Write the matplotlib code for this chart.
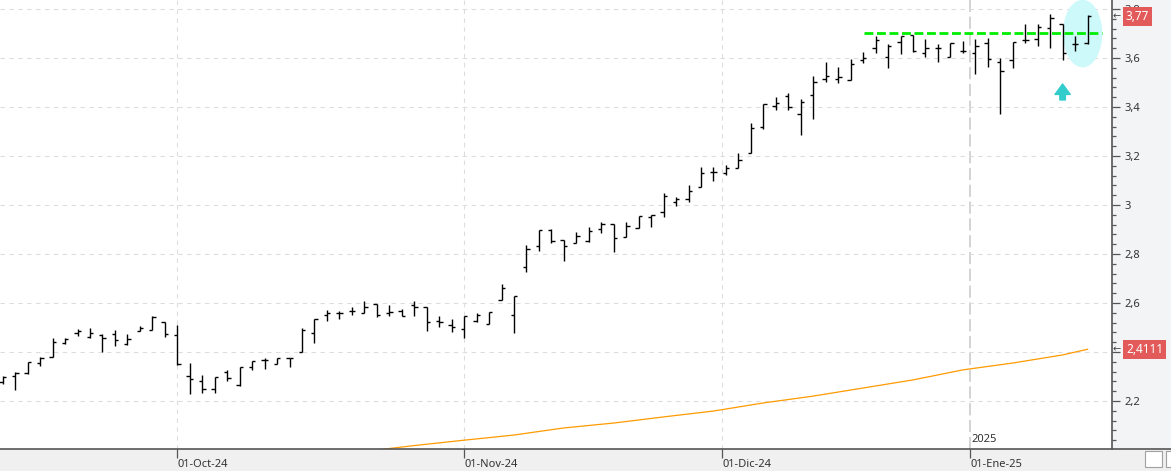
import numpy as np
import matplotlib
matplotlib.use("Agg")
import matplotlib.pyplot as plt
import matplotlib.transforms as mtransforms
from matplotlib.patches import Ellipse, Rectangle
from matplotlib.lines import Line2D
from matplotlib.ticker import MultipleLocator, FuncFormatter

plt.rcParams['font.family'] = ['Noto Sans', 'DejaVu Sans']

# Daily OHLC, one entry per session (11-Sep-24 .. 15-Jan-25)
opens = [2.276, 2.302, 2.313, 2.354, 2.378, 2.436, 2.476, 2.460, 2.470, 2.472,
         2.433, 2.486, 2.490, 2.521, 2.470, 2.302, 2.283, 2.250, 2.320, 2.265,
         2.337, 2.367, 2.351, 2.374, 2.399, 2.476, 2.551, 2.561, 2.567, 2.561,
         2.594, 2.558, 2.567, 2.592, 2.582, 2.528, 2.510, 2.494, 2.527, 2.513,
         2.612, 2.551, 2.745, 2.833, 2.898, 2.857, 2.846, 2.854, 2.902, 2.921,
         2.868, 2.905, 2.952, 2.970, 3.014, 3.023, 3.075, 3.133, 3.129, 3.150,
         3.214, 3.320, 3.405, 3.445, 3.370, 3.449, 3.515, 3.515, 3.511, 3.592,
         3.640, 3.603, 3.667, 3.694, 3.619, 3.640, 3.606, 3.630, 3.619, 3.660,
         3.585, 3.592, 3.673, 3.677, 3.724, 3.737, 3.656, 3.660]
highs = [2.302, 2.320, 2.361, 2.381, 2.456, 2.459, 2.494, 2.497, 2.472, 2.490,
         2.472, 2.508, 2.547, 2.524, 2.510, 2.357, 2.306, 2.299, 2.327, 2.337,
         2.365, 2.374, 2.377, 2.377, 2.499, 2.533, 2.571, 2.567, 2.582, 2.609,
         2.594, 2.592, 2.574, 2.608, 2.582, 2.548, 2.535, 2.548, 2.558, 2.562,
         2.676, 2.629, 2.837, 2.898, 2.901, 2.857, 2.888, 2.912, 2.929, 2.921,
         2.932, 2.957, 2.959, 3.048, 3.034, 3.082, 3.154, 3.154, 3.163, 3.211,
         3.333, 3.411, 3.441, 3.456, 3.433, 3.527, 3.585, 3.565, 3.596, 3.623,
         3.690, 3.656, 3.690, 3.694, 3.678, 3.656, 3.660, 3.669, 3.676, 3.680,
         3.601, 3.664, 3.738, 3.741, 3.778, 3.737, 3.691, 3.775]
lows = [2.270, 2.243, 2.310, 2.344, 2.378, 2.432, 2.466, 2.456, 2.402, 2.426,
        2.429, 2.486, 2.490, 2.463, 2.347, 2.228, 2.234, 2.231, 2.282, 2.261,
        2.327, 2.329, 2.351, 2.340, 2.399, 2.435, 2.528, 2.533, 2.551, 2.558,
        2.541, 2.547, 2.547, 2.547, 2.487, 2.503, 2.480, 2.459, 2.524, 2.513,
        2.612, 2.476, 2.725, 2.813, 2.843, 2.773, 2.843, 2.850, 2.884, 2.810,
        2.868, 2.905, 2.912, 2.950, 2.996, 3.014, 3.072, 3.099, 3.122, 3.150,
        3.214, 3.309, 3.389, 3.388, 3.286, 3.351, 3.504, 3.500, 3.511, 3.579,
        3.619, 3.558, 3.615, 3.626, 3.606, 3.585, 3.603, 3.619, 3.534, 3.564,
        3.371, 3.560, 3.660, 3.650, 3.642, 3.594, 3.630, 3.656]
closes = [2.296, 2.313, 2.358, 2.374, 2.440, 2.452, 2.486, 2.479, 2.456, 2.449,
          2.452, 2.497, 2.544, 2.472, 2.350, 2.290, 2.250, 2.297, 2.293, 2.337,
          2.362, 2.367, 2.374, 2.374, 2.490, 2.533, 2.558, 2.561, 2.567, 2.585,
          2.551, 2.565, 2.547, 2.585, 2.521, 2.521, 2.501, 2.548, 2.551, 2.562,
          2.663, 2.629, 2.820, 2.898, 2.853, 2.834, 2.873, 2.894, 2.922, 2.864,
          2.914, 2.957, 2.959, 3.037, 3.023, 3.057, 3.129, 3.133, 3.150, 3.184,
          3.316, 3.411, 3.415, 3.399, 3.419, 3.501, 3.527, 3.521, 3.575, 3.599,
          3.674, 3.651, 3.690, 3.629, 3.640, 3.640, 3.660, 3.630, 3.649, 3.598,
          3.548, 3.664, 3.673, 3.728, 3.762, 3.622, 3.656, 3.770]

# moving average (orange), read at some sessions
ma_idx = [30, 33, 37, 41, 45, 49, 53, 57, 61, 65, 69, 73, 77, 81, 85, 87]
ma_val = [2.000, 2.018, 2.040, 2.061, 2.090, 2.110, 2.135, 2.159, 2.192,
          2.220, 2.253, 2.286, 2.327, 2.355, 2.388, 2.4111]

# month separators (session position) and labels
month_pos = [14, 37, 57.7, 77.6]
month_labels = ["01-Oct-24", "01-Nov-24", "01-Dic-24", "01-Ene-25"]
year_label = "2025"

# resistance line and marks
support = 3.702
support_from, support_to = 69.1, 88.13
mark_idx = 85

W, H = 1171, 471
fig = plt.figure(figsize=(W / 100, H / 100), dpi=100)
fig.patch.set_facecolor('white')

# gray panels for the price scale and the date scale
fig.add_artist(Rectangle((1112 / W, 0), 1, 1, transform=fig.transFigure,
                         color='#f3f4f6', zorder=-1))
fig.add_artist(Rectangle((0, 0), 1, 22 / H, transform=fig.transFigure,
                         color='#f0f0f0', zorder=-1))
fig.add_artist(Line2D([0, 1], [22.5 / H, 22.5 / H], transform=fig.transFigure,
                      color='#555555', lw=1.2, zorder=5))
# small buttons in the corner
fig.add_artist(Rectangle((1145 / W, 4 / H), 17 / W, 16 / H, transform=fig.transFigure,
                         fc='white', ec='#a0a0a0', lw=0.8, zorder=5))
fig.add_artist(Rectangle((1166 / W, 4 / H), 10 / W, 16 / H, transform=fig.transFigure,
                         fc='white', ec='#a0a0a0', lw=0.8, zorder=5))

ax = fig.add_axes([0, 22 / H, 1112 / W, 449 / H])
ax.set_xlim(-0.22, 88.96)
ax.set_ylim(2.004, 3.837)

for s in ['top', 'left']:
    ax.spines[s].set_visible(False)
ax.spines['right'].set_color('#555555')
ax.spines['right'].set_linewidth(1.2)
ax.spines['bottom'].set_visible(False)


# price scale; the label under the moving-average tag is hidden
def price_fmt(v, p):
    if abs(v - 2.4) < 1e-6:
        return ''
    return f"{v:.1f}".rstrip('0').rstrip('.').replace('.', ',')


ax.yaxis.tick_right()
ax.yaxis.set_major_locator(MultipleLocator(0.2))
ax.yaxis.set_minor_locator(MultipleLocator(0.04))
ax.yaxis.set_major_formatter(FuncFormatter(price_fmt))
ax.tick_params(axis='y', which='major', length=6, width=0.9, color='#555555',
               labelsize=8, labelcolor='#333333', pad=3)
ax.tick_params(axis='y', which='minor', length=3, width=0.9, color='#555555')
ax.grid(axis='y', which='major', color='#dddddd', linestyle=(0, (4, 4)), lw=0.8)

# date scale
ax.set_xticks(month_pos, month_labels)
for lab in ax.get_xticklabels():
    lab.set_horizontalalignment('left')
ax.tick_params(axis='x', length=6.5, width=0.9, color='#555555',
               labelsize=8, labelcolor='#333333', pad=1)
for p in month_pos[:-1]:
    ax.axvline(p, color='#dddddd', linestyle=(0, (4, 4)), lw=0.8, zorder=1)
ax.axvline(month_pos[-1], color='#c8c8c8', linestyle=(0, (8, 3)), lw=1.1, zorder=1)
ax.text(month_pos[-1] + 0.08, 2.041, year_label, fontsize=8, color='#333333',
        va='center', ha='left')

# highlight ellipse and arrow
ax.add_patch(Ellipse((86.6, 3.70), 3.05, 0.27, color='#cdf9fb', zorder=1.8))
ax.annotate('', xy=(mark_idx, 3.494), xytext=(mark_idx, 3.429),
            arrowprops=dict(arrowstyle='simple,head_length=0.75,head_width=1.1,tail_width=0.4',
                            color='#33cccc', shrinkA=0, shrinkB=0, mutation_scale=10))

# OHLC bars
x = np.arange(len(opens))
ax.vlines(x, lows, highs, color='black', lw=1.0, zorder=2)
ax.hlines(opens, x - 0.27, x, color='black', lw=1.0, zorder=2)
ax.hlines(closes, x, x + 0.27, color='black', lw=1.0, zorder=2)

# moving average
ax.plot(ma_idx, ma_val, color='#ff9a00', lw=0.9, zorder=2)

# horizontal level
ax.hlines(support, support_from, support_to, colors='#00ee00', lw=2,
          linestyles=[(0, (3.2, 1.3))], zorder=3)

# last value tags
trans = mtransforms.blended_transform_factory(ax.transAxes, ax.transData)
for val, txt in [(closes[-1], f"{closes[-1]:.2f}".replace('.', ',')),
                 (ma_val[-1], f"{ma_val[-1]:.4f}".replace('.', ','))]:
    ax.text(1126 / 1112, val, txt, transform=trans, fontsize=8.5, color='white',
            ha='left', va='center', clip_on=False, zorder=6,
            bbox=dict(boxstyle='square,pad=0.25', fc='#e35a5a', ec='none'))
    ax.text(1113 / 1112, val, '←', transform=trans, fontsize=7, color='#444444',
            ha='left', va='center', clip_on=False, zorder=6,
            family=['DejaVu Sans'])

fig.savefig('out.png', dpi=100)
